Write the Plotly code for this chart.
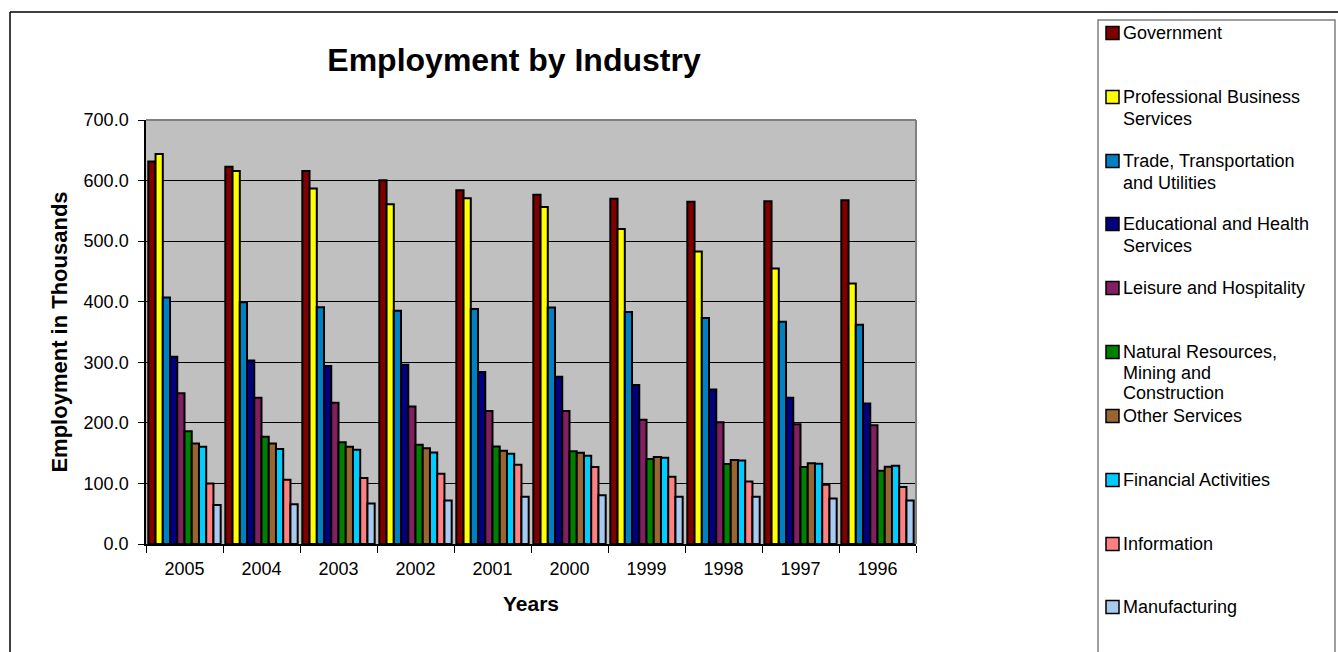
import plotly.graph_objects as go

years = ["2005", "2004", "2003", "2002", "2001", "2000", "1999", "1998", "1997", "1996"]

series_names = [
    "Government",
    "Professional Business<br>Services",
    "Trade, Transportation<br>and Utilities",
    "Educational and Health<br>Services",
    "Leisure and Hospitality",
    "Natural Resources,<br>Mining and<br>Construction",
    "Other Services",
    "Financial Activities",
    "Information",
    "Manufacturing",
]

government = [631.5, 623.0, 616.0, 600.5, 584.0, 576.5, 570.0, 565.0, 566.0, 567.5]
professional_business = [644.0, 616.0, 587.0, 561.0, 571.0, 556.5, 520.0, 483.0, 455.0, 430.0]
trade_transport_util = [407.0, 399.0, 391.0, 385.0, 388.0, 390.5, 383.0, 373.0, 367.0, 362.0]
educational_health = [309.0, 303.0, 294.0, 296.0, 284.0, 276.0, 262.5, 255.0, 241.5, 232.0]
leisure_hospitality = [249.0, 241.5, 233.0, 227.0, 219.5, 219.5, 205.0, 201.0, 197.5, 196.0]
natural_res_mining = [186.0, 177.0, 168.0, 164.0, 161.0, 153.0, 140.5, 132.0, 127.0, 121.0]
other_services = [166.0, 166.0, 160.5, 158.0, 154.0, 150.5, 143.5, 138.5, 133.5, 127.5]
financial_activities = [160.5, 157.0, 155.5, 151.0, 149.0, 145.5, 142.5, 138.0, 132.5, 129.0]
information = [100.0, 106.0, 109.0, 116.0, 131.0, 127.0, 111.0, 103.0, 98.0, 94.0]
manufacturing = [64.5, 65.5, 67.0, 72.0, 78.0, 80.5, 78.0, 78.0, 75.0, 72.0]

values = [government, professional_business, trade_transport_util, educational_health,
          leisure_hospitality, natural_res_mining, other_services, financial_activities,
          information, manufacturing]

colors = ["#800000", "#FFFF00", "#0080C0", "#000080", "#802060",
          "#008000", "#996633", "#00CCFF", "#FF8080", "#A6CAF0"]

y_ticks = [0, 100, 200, 300, 400, 500, 600, 700]

W, H = 1338, 652
L, R, T, B = 146, 916, 120, 544
FONT = "Liberation Sans, Arial, sans-serif"


def px_x(px):
    return (px - L) / (R - L)


def px_y(py):
    return (B - py) / (B - T)


fig = go.Figure()
for name, vals, col in zip(series_names, values, colors):
    fig.add_trace(go.Bar(
        x=years, y=vals, name=name.replace("<br>", " "),
        marker=dict(color=col, line=dict(color="black", width=2)),
        showlegend=False,
    ))

shapes = []
annotations = []

# outer chart border (top & left visible)
shapes.append(dict(type="line", xref="paper", yref="paper",
                   x0=px_x(10), x1=px_x(1340), y0=px_y(12), y1=px_y(12),
                   line=dict(color="black", width=1.5)))
shapes.append(dict(type="line", xref="paper", yref="paper",
                   x0=px_x(10), x1=px_x(10), y0=px_y(12), y1=px_y(660),
                   line=dict(color="black", width=1.5)))

# plot area top/right border (gray)
shapes.append(dict(type="line", xref="paper", yref="paper", x0=0, x1=1, y0=1, y1=1,
                   line=dict(color="#808080", width=2)))
shapes.append(dict(type="line", xref="paper", yref="paper", x0=1, x1=1, y0=0, y1=1,
                   line=dict(color="#808080", width=2)))

# legend box
shapes.append(dict(type="rect", xref="paper", yref="paper",
                   x0=px_x(1098), x1=px_x(1335), y0=px_y(20), y1=px_y(670),
                   line=dict(color="#808080", width=1.5), fillcolor="rgba(0,0,0,0)"))

leg_first_line_y = [33, 97, 161, 224, 288, 352, 416, 480, 544, 607]
leg_fs = 18
line_h = 22
for name, col, cy in zip(series_names, colors, leg_first_line_y):
    shapes.append(dict(type="rect", xref="paper", yref="paper",
                       x0=px_x(1106), x1=px_x(1119), y0=px_y(cy - 6.5), y1=px_y(cy + 6.5),
                       fillcolor=col, line=dict(color="black", width=1.5)))
    lines = name.split("<br>")
    step = line_h if len(lines) < 3 else 20.5
    for i, ln in enumerate(lines):
        annotations.append(dict(xref="paper", yref="paper", x=px_x(1122),
                                y=px_y(cy + i * step),
                                xanchor="left", yanchor="middle", align="left",
                                text=ln, showarrow=False, borderpad=0,
                                font=dict(family=FONT, size=leg_fs, color="black")))

fig.update_layout(
    width=W, height=H,
    margin=dict(l=L, r=W - R, t=T, b=H - B, autoexpand=False),
    paper_bgcolor="white",
    plot_bgcolor="#C0C0C0",
    barmode="group",
    bargap=0.06,
    bargroupgap=0,
    font=dict(family=FONT, size=18, color="black"),
    title=dict(text="<b>Employment by Industry</b>", x=px_x(514), xref="paper",
               xanchor="center", y=1 - 60 / H, yref="container", yanchor="middle",
               font=dict(family=FONT, size=32, color="black")),
    shapes=shapes,
    annotations=annotations,
    xaxis=dict(
        type="category", categoryorder="array", categoryarray=years,
        showline=True, linecolor="black", linewidth=1.5,
        ticks="outside", tickson="boundaries", ticklen=7, tickcolor="black", tickwidth=1,
        tickfont=dict(family=FONT, size=18, color="black"),
        ticklabelstandoff=8,
        showgrid=False, automargin=False,
        title=dict(text="<b>Years</b>", standoff=18,
                   font=dict(family=FONT, size=21, color="black")),
    ),
    yaxis=dict(
        range=[0, 700], tickvals=y_ticks, tickformat=".1f",
        showline=True, linecolor="black", linewidth=1.5,
        ticks="outside", ticklen=6, tickcolor="black", tickwidth=1,
        tickfont=dict(family=FONT, size=18, color="black"),
        ticklabelstandoff=6,
        showgrid=True, gridcolor="black", gridwidth=1,
        zeroline=False, automargin=False,
        title=dict(text="<b>Employment in Thousands</b>", standoff=10,
                   font=dict(family=FONT, size=22, color="black")),
    ),
)

fig.write_html("out.html")
